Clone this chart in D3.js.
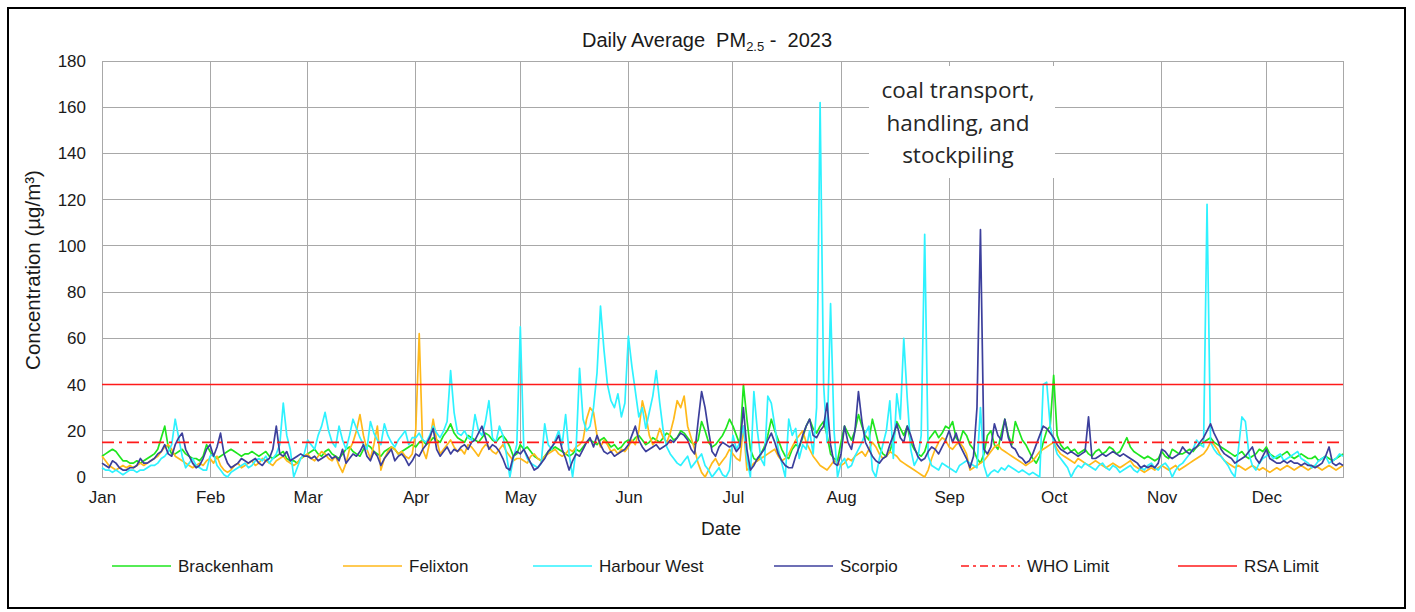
<!DOCTYPE html>
<html>
<head>
<meta charset="utf-8">
<script src="https://cdn.jsdelivr.net/npm/d3@7"></script>
<style>
  html, body { margin: 0; padding: 0; background: #fff; }
  svg { display: block; font-family: "Liberation Sans", Arial, sans-serif; }
</style>
</head>
<body>
<svg id="chart" width="1415" height="612"></svg>
<script>
// Daily average PM2.5 concentrations (µg/m³), 1 Jan – 23 Dec 2023, one row per month.
const brackenham = [
  9,10,11,12,11,9,7,7,6,6,7,6,7,8,9,10,12,17,22,13,10,10,11,12,10,9,8,8,7,9,14,
  11,9,8,9,10,11,12,11,10,9,10,10,11,10,9,10,11,9,8,9,10,11,8,7,7,6,8,9,
  10,11,12,10,9,11,12,10,9,8,10,12,13,11,10,9,12,14,13,11,10,9,11,12,13,12,10,11,12,13,14,
  13,15,16,14,15,17,16,15,18,20,23,19,17,16,15,18,17,16,15,17,19,18,16,15,17,18,16,13,9,10,
  14,12,13,11,9,8,7,9,11,12,13,12,11,10,9,10,12,11,13,15,16,15,14,16,17,15,13,14,12,13,15,
  16,15,17,18,16,14,15,17,16,15,17,19,18,16,17,20,19,17,15,14,16,24,20,15,13,14,16,18,21,25,
  22,18,14,40,25,12,8,7,10,13,18,25,20,16,12,9,8,12,14,13,17,22,25,21,19,22,24,18,10,8,7,
  15,22,19,16,20,27,22,18,16,25,19,13,10,9,11,16,24,21,18,22,15,12,10,9,11,16,18,20,17,19,22,
  21,24,17,15,20,18,14,12,8,6,10,18,20,14,12,19,25,18,14,24,20,16,14,11,8,6,9,15,20,22,
  44,18,14,12,13,11,12,10,11,12,10,9,11,12,10,11,13,12,10,11,14,17,13,11,10,9,8,9,8,7,8,
  11,9,8,12,11,10,10,11,12,11,13,14,15,16,17,15,14,13,12,11,10,9,10,11,9,8,9,10,12,11,
  13,10,9,8,9,10,11,9,8,9,10,9,8,8,9,7,8,9,8,7,8,9,10
];
const felixton = [
  9,7,5,4,3,4,5,4,5,4,5,6,5,6,7,8,9,11,13,14,12,9,8,7,6,5,4,5,6,5,7,
  8,6,9,5,3,2,3,5,6,4,5,6,7,5,6,8,7,6,5,7,8,9,7,6,5,6,8,9,
  10,8,7,9,11,10,8,7,9,5,2,6,12,15,20,27,18,12,8,14,22,3,8,11,13,12,10,11,9,8,10,
  20,62,12,8,15,25,16,10,12,14,16,13,11,12,10,14,13,11,9,12,14,13,11,10,12,14,11,9,7,8,
  8,7,6,9,10,8,7,9,10,11,12,10,9,10,12,11,13,14,16,25,30,28,18,13,16,14,11,12,10,12,11,
  13,16,14,20,33,27,18,14,16,21,17,15,19,25,33,30,35,22,17,12,6,2,0,3,6,8,5,7,9,12,
  10,8,7,22,3,4,6,7,8,9,10,11,12,9,7,8,10,13,16,18,20,15,12,9,7,5,4,3,5,7,6,
  5,6,8,7,9,10,11,9,12,15,13,10,8,9,11,10,9,7,6,5,4,3,2,1,0,3,8,12,15,17,16,
  13,12,14,15,13,10,3,4,5,6,7,9,11,13,14,12,11,10,9,8,7,6,5,6,7,9,11,12,13,14,
  15,12,10,9,8,7,6,8,7,6,5,6,7,6,5,4,5,6,5,4,5,6,7,5,4,3,2,3,4,3,4,
  5,4,3,4,5,3,4,5,6,7,8,9,10,12,15,14,12,9,7,6,5,4,5,4,3,4,5,4,3,4,
  3,2,3,4,3,4,5,4,3,4,5,4,3,4,5,4,3,4,5,4,3,4,5
];
const harbourWest = [
  4,3,3,2,3,2,1,2,3,3,2,3,3,4,5,5,6,8,9,11,14,25,17,9,4,6,8,5,4,3,3,
  9,10,5,3,1,0,2,3,4,5,6,4,5,7,8,7,9,6,8,10,14,32,18,12,0,4,8,10,
  16,14,12,18,22,28,20,15,13,22,16,12,18,25,21,17,14,12,24,19,16,14,23,18,15,13,16,18,20,14,17,
  17,19,16,15,18,22,19,17,20,24,46,28,19,18,20,17,16,27,20,18,24,33,17,15,22,18,10,0,8,14,
  65,12,8,6,5,4,6,23,14,12,16,20,14,27,10,0,12,47,25,20,22,30,45,74,55,40,33,30,36,26,32,
  61,48,37,26,30,21,28,35,46,32,20,13,10,8,6,5,7,9,4,6,8,10,5,3,0,2,4,1,0,3,
  18,12,15,22,8,0,37,20,8,5,35,32,22,12,6,0,25,18,21,8,14,12,20,10,30,162,40,15,75,20,0,
  6,8,4,5,9,12,15,19,22,3,0,8,14,20,33,8,36,25,60,34,12,5,8,18,105,9,5,4,3,6,5,
  4,3,2,5,6,7,6,5,4,30,5,0,2,3,2,4,3,5,4,3,2,3,2,1,2,1,0,40,41,22,
  15,10,8,6,4,0,3,5,4,6,5,4,3,5,6,4,3,5,4,2,3,4,5,3,2,4,3,5,6,4,3,
  5,6,4,0,3,5,6,8,10,12,16,14,13,118,15,12,10,9,7,5,2,0,12,26,24,10,5,3,6,8,
  9,10,8,9,10,7,8,9,10,11,8,7,6,4,5,7,8,9,6,7,8,10,9
];
const scorpio = [
  6,5,4,7,6,4,3,3,4,4,5,8,6,6,7,8,10,11,14,10,9,14,17,19,12,9,6,4,5,8,12,
  14,9,13,19,10,6,4,5,6,8,7,6,7,8,6,5,7,8,12,22,10,9,11,7,8,9,10,9,
  9,8,9,7,8,9,10,8,9,7,12,6,8,10,9,11,14,9,7,11,9,5,8,10,12,7,9,10,8,5,7,
  10,9,12,14,17,21,12,9,11,13,10,12,11,13,14,12,15,16,19,22,17,12,14,13,11,8,4,3,9,11,
  10,12,9,6,3,4,6,8,11,13,15,18,12,8,3,7,10,9,12,15,17,13,18,14,11,10,11,9,10,11,12,
  14,18,22,16,13,11,12,13,14,12,13,14,16,15,17,19,18,16,12,10,24,37,30,20,11,9,13,15,14,13,
  14,11,13,30,12,3,5,8,10,12,16,19,15,10,7,5,4,4,9,13,18,22,25,18,17,20,22,32,14,6,5,
  10,22,15,12,20,37,24,15,12,9,7,6,8,9,14,18,23,17,15,22,18,13,9,7,8,11,13,12,10,13,16,
  20,15,19,14,11,8,4,9,30,107,12,10,13,23,18,16,25,17,13,12,9,8,6,7,10,14,18,22,21,19,
  17,14,12,11,10,11,10,9,10,11,26,8,8,9,10,9,10,11,10,9,10,9,8,7,6,4,5,4,5,4,6,
  12,11,9,8,9,10,13,11,10,12,13,15,17,20,23,19,16,12,10,9,8,6,7,8,9,11,13,8,6,9,
  12,8,7,6,6,7,6,7,6,6,5,6,5,5,4,5,6,9,13,6,5,6,5
];

const seriesNames = ["Brackenham", "Felixton", "Harbour West", "Scorpio"];
const seriesColors = ["#1ee61e", "#ffb91a", "#2ef2ff", "#3c3f9c"];
const limitNames = ["WHO Limit", "RSA Limit"];
const limitValues = [15, 40];
const monthLabels = ["Jan","Feb","Mar","Apr","May","Jun","Jul","Aug","Sep","Oct","Nov","Dec"];
const yTickValues = [0, 20, 40, 60, 80, 100, 120, 140, 160, 180];
const noteLines = ["coal transport,", "handling, and", "stockpiling"];

const startDate = new Date(2023, 0, 1);
const endDate = new Date(2023, 11, 23);
const dates = brackenham.map((_, i) => d3.timeDay.offset(startDate, i));

const svg = d3.select("#chart");
const plot = { left: 102, right: 1343, top: 61, bottom: 477 };

const x = d3.scaleTime().domain([startDate, endDate]).range([plot.left, plot.right]);
const y = d3.scaleLinear().domain([0, 180]).range([plot.bottom, plot.top]);

// Outer frame
svg.append("rect")
  .attr("x", 8).attr("y", 8).attr("width", 1397).attr("height", 600)
  .attr("fill", "#fff").attr("stroke", "#000").attr("stroke-width", 2);

// Gridlines
const grid = svg.append("g").attr("stroke", "#a8a8a8").attr("stroke-width", 1).attr("shape-rendering", "crispEdges");
grid.selectAll("line.h").data(yTickValues).join("line")
  .attr("x1", plot.left).attr("x2", plot.right)
  .attr("y1", d => y(d)).attr("y2", d => y(d));
const monthTicks = d3.timeMonth.range(startDate, endDate);
grid.selectAll("line.v").data(monthTicks).join("line")
  .attr("x1", d => x(d)).attr("x2", d => x(d))
  .attr("y1", plot.top).attr("y2", plot.bottom);
grid.append("rect")
  .attr("x", plot.left).attr("y", plot.top)
  .attr("width", plot.right - plot.left).attr("height", plot.bottom - plot.top)
  .attr("fill", "none");

// Annotation box (white, hides the gridlines behind the note)
svg.append("rect").attr("x", 869).attr("y", 66).attr("width", 186).attr("height", 112).attr("fill", "#fff");
svg.append("text")
  .attr("x", 958).attr("text-anchor", "middle")
  .attr("font-family", "'Open Sans', 'Noto Sans', sans-serif").attr("font-size", 22.5).attr("fill", "#262626")
  .selectAll("tspan").data(noteLines).join("tspan")
  .attr("x", 958).attr("y", (d, i) => 98 + i * 32.5).text(d => d);

// Axes
const xAxis = d3.axisBottom(x).tickValues(monthTicks).tickFormat((d, i) => monthLabels[i]).tickSize(0).tickPadding(14);
svg.append("g").attr("transform", `translate(0,${plot.bottom})`).call(xAxis)
  .call(g => g.select(".domain").remove())
  .selectAll("text").attr("font-size", 17).attr("fill", "#1a1a1a").attr("font-family", "'Liberation Sans', Arial, sans-serif");

const yAxis = d3.axisLeft(y).tickValues(yTickValues).tickSize(0).tickPadding(16);
svg.append("g").attr("transform", `translate(${plot.left},0)`).call(yAxis)
  .call(g => g.select(".domain").remove())
  .selectAll("text").attr("font-size", 17).attr("fill", "#1a1a1a").attr("font-family", "'Liberation Sans', Arial, sans-serif");

// Series lines
const line = d3.line().x((d, i) => x(dates[i])).y(d => y(d));
const seriesData = [brackenham, felixton, harbourWest, scorpio];
svg.append("g").selectAll("path").data(seriesData).join("path")
  .attr("d", d => line(d))
  .attr("fill", "none")
  .attr("stroke", (d, i) => seriesColors[i])
  .attr("stroke-width", 1.7)
  .attr("stroke-linejoin", "round");

// Limit lines
const limitDash = ["12,5,3,5", null];
svg.append("g").selectAll("line").data(limitValues).join("line")
  .attr("x1", plot.left).attr("x2", plot.right)
  .attr("y1", d => y(d)).attr("y2", d => y(d))
  .attr("stroke", "#ff1a1a").attr("stroke-width", 1.6)
  .attr("stroke-dasharray", (d, i) => limitDash[i]);

// Titles
const title = svg.append("text").attr("x", 707).attr("y", 47).attr("text-anchor", "middle")
  .attr("font-size", 20).attr("fill", "#1a1a1a");
title.append("tspan").text("Daily Average\u00a0\u00a0PM");
title.append("tspan").attr("font-size", 13).attr("dy", 4).text("2.5");
title.append("tspan").attr("dy", -4).text(" -\u00a0\u00a02023");

svg.append("text").attr("x", 721).attr("y", 535).attr("text-anchor", "middle")
  .attr("font-size", 19).attr("fill", "#1a1a1a").text("Date");

svg.append("text").attr("transform", "translate(40,270) rotate(-90)").attr("text-anchor", "middle")
  .attr("font-size", 20.5).attr("fill", "#1a1a1a").text("Concentration (µg/m³)");

// Legend
const legendItems = [
  { name: seriesNames[0], color: seriesColors[0], dash: null, x: 112 },
  { name: seriesNames[1], color: seriesColors[1], dash: null, x: 343 },
  { name: seriesNames[2], color: seriesColors[2], dash: null, x: 533 },
  { name: seriesNames[3], color: seriesColors[3], dash: null, x: 774 },
  { name: limitNames[0], color: "#ff1a1a", dash: "8,4,3,4", x: 961 },
  { name: limitNames[1], color: "#ff1a1a", dash: null, x: 1178 }
];
const legend = svg.append("g").selectAll("g").data(legendItems).join("g")
  .attr("transform", d => `translate(${d.x},566)`);
legend.append("line").attr("x1", 0).attr("x2", 59).attr("y1", 0).attr("y2", 0)
  .attr("stroke", d => d.color).attr("stroke-width", 1.6).attr("stroke-dasharray", d => d.dash);
legend.append("text").attr("x", 66).attr("y", 6).attr("font-size", 17).attr("fill", "#1a1a1a").text(d => d.name);
</script>
</body>
</html>
